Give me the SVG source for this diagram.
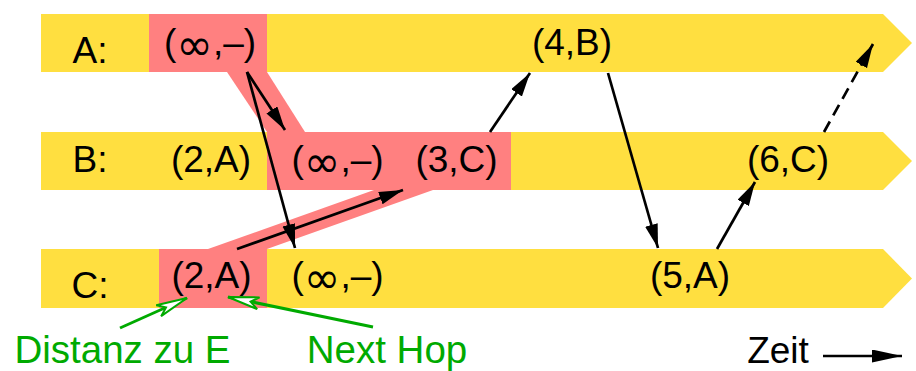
<svg xmlns="http://www.w3.org/2000/svg" width="916" height="371" viewBox="0 0 916 371">
  <defs>
    <style>
      .band { fill: #ffdf40; }
      .hl { fill: #ff8080; }
      text { font-family: "Liberation Sans", Arial, Helvetica, sans-serif; font-size: 37px; fill: #000; text-anchor: middle; }
      .inf { font-family: "DejaVu Sans", sans-serif; font-size: 44px; }
      .green { fill: #00aa00; font-size: 38.5px; }
      .conn { stroke: #000; stroke-width: 2.7; fill: none; marker-end: url(#ah); }
      .dash { stroke-dasharray: 12 7; }
      .gconn { stroke: #00aa00; stroke-width: 3; fill: none; marker-end: url(#gah); }
    </style>
    <marker id="ah" markerUnits="userSpaceOnUse" markerWidth="26" markerHeight="14" refX="24" refY="6.5" orient="auto">
      <path d="M0,0 L24,6.5 L0,13 z" fill="#000"/>
    </marker>
    <marker id="ahz" markerUnits="userSpaceOnUse" markerWidth="32" markerHeight="14" refX="30" refY="6.5" orient="auto">
      <path d="M0,0 L30,6.5 L0,13 z" fill="#000"/>
    </marker>
    <marker id="gah" markerUnits="userSpaceOnUse" markerWidth="36" markerHeight="18" refX="33" refY="9" orient="auto">
      <path d="M2,3 L33,9 L2,15 L10,9 z" fill="#fff" stroke="#00aa00" stroke-width="2"/>
    </marker>
  </defs>

  <g id="row-A">
    <polygon class="band" points="41,14 883,14 912,43 883,72 41,72"/>
  </g>
  <g id="row-B">
    <polygon class="band" points="41,132 883,132 912,161 883,190 41,190"/>
  </g>
  <g id="row-C">
    <polygon class="band" points="41,249 883,249 912,278.5 883,308 41,308"/>
  </g>

  <g id="route-highlight">
    <rect class="hl" x="149" y="14" width="118" height="58"/>
    <polygon class="hl" points="227,72 267,72 305,132 267,132"/>
    <rect class="hl" x="267" y="132" width="244" height="58"/>
    <polygon class="hl" points="374,190 433,190 267,249 208,249"/>
    <rect class="hl" x="159" y="249" width="108" height="59"/>
  </g>

  <g id="label-A"><text x="90" y="63">A:</text></g>
  <g id="label-B"><text x="90" y="172">B:</text></g>
  <g id="label-C"><text x="90" y="298">C:</text></g>

  <g id="A-inf"><text x="210" y="55">(<tspan class="inf" dy="5">∞</tspan><tspan dy="-5">,–)</tspan></text></g>
  <g id="A-4B"><text x="572" y="55">(4,B)</text></g>

  <g id="B-2A"><text x="211" y="172">(2,A)</text></g>
  <g id="B-inf"><text x="337.5" y="172">(<tspan class="inf" dy="5">∞</tspan><tspan dy="-5">,–)</tspan></text></g>
  <g id="B-3C"><text x="456.5" y="172">(3,C)</text></g>
  <g id="B-6C"><text x="788" y="172">(6,C)</text></g>

  <g id="C-2A"><text x="211.5" y="288">(2,A)</text></g>
  <g id="C-inf"><text x="337.5" y="288">(<tspan class="inf" dy="5">∞</tspan><tspan dy="-5">,–)</tspan></text></g>
  <g id="C-5A"><text x="690" y="288">(5,A)</text></g>

  <g id="connectors">
    <line class="conn" x1="247" y1="72" x2="285" y2="130"/>
    <line class="conn" x1="247" y1="72" x2="295" y2="248"/>
    <line class="conn" x1="237" y1="249" x2="403" y2="190"/>
    <line class="conn" x1="490" y1="132" x2="530" y2="73"/>
    <line class="conn" x1="608" y1="73" x2="658" y2="248"/>
    <line class="conn" x1="717" y1="249" x2="755" y2="182"/>
    <line class="conn dash" x1="824" y1="132" x2="873" y2="44"/>
  </g>

  <g id="annotations">
    <line class="gconn" x1="120" y1="328" x2="187" y2="298"/>
    <line class="gconn" x1="373" y1="327" x2="228" y2="297"/>
    <text class="green" x="122.5" y="362.5">Distanz zu E</text>
    <text class="green" x="387" y="362.5">Next Hop</text>
  </g>

  <g id="time-legend">
    <text x="778" y="362.5">Zeit</text>
    <line x1="823" y1="356" x2="902" y2="356" stroke="#000" stroke-width="2.7" marker-end="url(#ahz)"/>
  </g>
</svg>
